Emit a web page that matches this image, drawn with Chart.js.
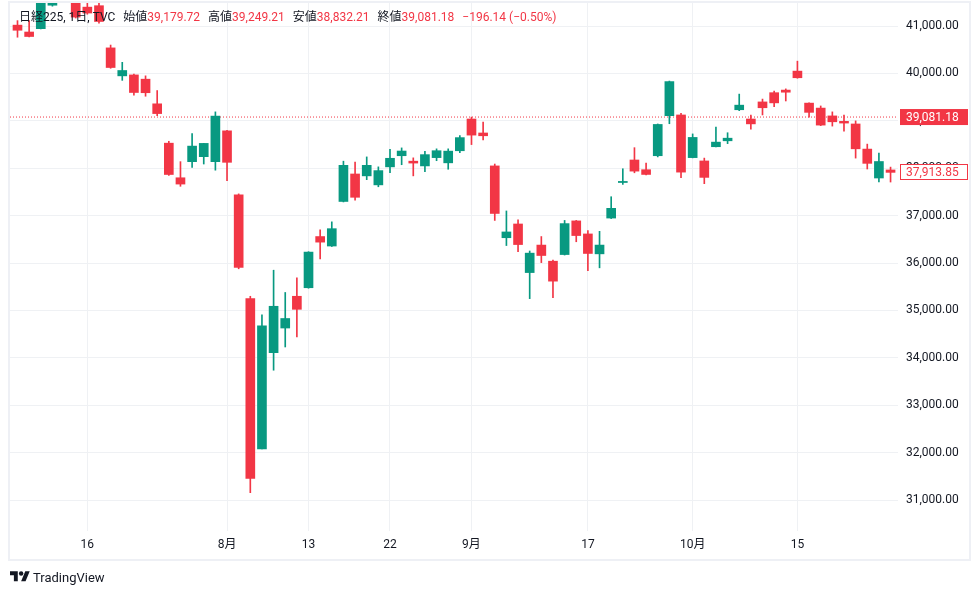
<!DOCTYPE html>
<html>
<head>
<meta charset="utf-8">
<script src="https://cdn.jsdelivr.net/npm/chart.js@4.4.0/dist/chart.umd.min.js"></script>
<style>
html,body{margin:0;padding:0;background:#fff;}
#wrap{position:relative;width:980px;height:592px;overflow:hidden;font-family:Roboto,"Noto Sans CJK JP",sans-serif;}
#frame{position:absolute;left:8px;top:1px;width:963px;height:560px;box-sizing:border-box;border:2px solid #EEF0F5;}
#c{position:absolute;left:0;top:0;}
#legend{position:absolute;left:19px;top:9px;font-size:12px;line-height:16px;color:#131722;white-space:nowrap;}
#legend .v{color:#F23645;}
#legend .g{margin-left:8px;}
#logo{position:absolute;left:10px;top:568px;height:18px;display:flex;align-items:center;color:#131722;font-size:13px;}
#logo svg{margin-right:3px;}
</style>
</head>
<body>
<div id="wrap">
  <div id="frame"></div>
  <canvas id="c" width="980" height="592"></canvas>
  <div id="legend"><span>日経225, 1日, TVC</span><span class="g">始値</span><span class="v">39,179.72</span><span class="g">高値</span><span class="v">39,249.21</span><span class="g">安値</span><span class="v">38,832.21</span><span class="g">終値</span><span class="v">39,081.18</span><span class="g v">−196.14 (−0.50%)</span></div>
  <div id="logo"><svg width="20" height="15.6" viewBox="0 0 36 28"><path fill="#131722" d="M14 22H7V11H0V4h14v18ZM28 22h-8l7.5-18h8L28 22Z"/><circle fill="#131722" cx="20" cy="8" r="4"/></svg><span>TradingView</span></div>
</div>
<script>
const dates = [
 '2024-07-05','2024-07-08','2024-07-09','2024-07-10','2024-07-11','2024-07-12','2024-07-16','2024-07-17','2024-07-18','2024-07-19',
 '2024-07-22','2024-07-23','2024-07-24','2024-07-25','2024-07-26','2024-07-29','2024-07-30','2024-07-31',
 '2024-08-01','2024-08-02','2024-08-05','2024-08-06','2024-08-07','2024-08-08','2024-08-09','2024-08-13','2024-08-14','2024-08-15',
 '2024-08-16','2024-08-19','2024-08-20','2024-08-21','2024-08-22','2024-08-23','2024-08-26','2024-08-27','2024-08-28','2024-08-29','2024-08-30',
 '2024-09-02','2024-09-03','2024-09-04','2024-09-05','2024-09-06','2024-09-09','2024-09-10','2024-09-11','2024-09-12','2024-09-13',
 '2024-09-17','2024-09-18','2024-09-19','2024-09-20','2024-09-24','2024-09-25','2024-09-26','2024-09-27','2024-09-30',
 '2024-10-01','2024-10-02','2024-10-03','2024-10-04','2024-10-07','2024-10-08','2024-10-09','2024-10-10','2024-10-11',
 '2024-10-15','2024-10-16','2024-10-17','2024-10-18','2024-10-21','2024-10-22','2024-10-23','2024-10-24','2024-10-25'
];
const opens = [41020,40875,40945,41440,41900,41700,41400,41430,40540,39950,39970,39880,39360,38530,37800,38140,38245,38140,
 38790,37440,35250,32077,34110,34630,35300,35480,36560,36360,37300,37880,37840,37650,38030,38265,38150,38050,38225,38115,38370,
 39040,38745,38050,36535,36825,35800,36380,36040,36180,36890,36615,36195,36950,37700,38175,37970,38265,39110,39125,
 38225,38155,38455,38580,39235,39040,39400,39595,39650,40050,39375,39270,39105,38990,38935,38405,37795,37965];
const highs = [41115,41115,41600,41900,42420,41800,41520,41520,40600,40235,39990,39950,39640,38570,38140,38730,38525,39190,
 38800,37460,35300,34911,35850,35380,35690,36240,36700,36870,38150,38130,38240,38030,38400,38430,38220,38360,38410,38410,38690,
 39080,38975,38090,37100,36910,36255,36560,36065,36900,36900,36685,36670,37400,37990,38435,38110,38935,39840,39160,
 38725,38215,38870,38750,39565,39125,39460,39630,39675,40260,39380,39315,39190,39125,39000,38510,38320,38025];
const lows = [40765,40770,40940,41420,41850,41170,41250,41060,40110,39855,39540,39520,39110,37850,37620,38020,38090,37960,
 37740,35880,31156,32077,33740,34230,34440,35470,36090,36350,37290,37330,37760,37610,37910,38075,37840,37930,38160,37980,38330,
 38500,38600,36900,36370,36240,35250,36010,35270,36170,36450,35840,35900,36940,37660,37905,37860,38240,38940,37800,
 38220,37675,38450,38520,39215,38825,39125,39300,39420,39900,39080,38900,38890,38785,38215,37985,37710,37710];
const closes = [40912,40780,41580,41831,42224,41190,41275,41097,40126,40063,39599,39594,39154,37869,37667,38468,38525,39101,
 38126,35909,31458,34675,35089,34831,35025,36232,36442,36726,38062,37388,38062,37951,38211,38364,38110,38288,38371,38362,38647,
 38700,38686,37047,36657,36391,36210,36160,35619,36833,36581,36203,36380,37155,37723,37940,37870,38925,39829,37919,
 38651,37808,38552,38635,39332,38937,39277,39380,39605,39910,39180,38911,38981,38954,38411,38104,38143,37913.85];
const xTickIdx = [6,18,25,32,39,49,58,67];
const xTickLabels = ['16','8月','13','22','9月','17','10月','15'];
const yTicks = [31000,32000,33000,34000,35000,36000,37000,38000,39000,40000,41000];
const lastPrice = 39081.18;
const lastVisibleClose = 37913.85;

const UP = '#089981', DOWN = '#F23645', GRID = '#EFF1F4', TXT = '#131722';
const FONT = 'Roboto, "Noto Sans CJK JP", sans-serif';
const xMin = -0.644, xMax = 75.64, yMin = 30348, yMax = 41487;

const fmt = v => v.toLocaleString('en-US',{minimumFractionDigits:2,maximumFractionDigits:2});
const idx = dates.map((d,i)=>i);
const bodies = idx.map(i=>({x:i,y:[opens[i],closes[i]]}));
const wicks = idx.map(i=>({x:i,y:[lows[i],highs[i]]}));
const colors = idx.map(i=>closes[i]>=opens[i]?UP:DOWN);

const labelPlugin = {
  id:'priceLabels',
  afterDraw(chart){
    const {ctx, chartArea, scales:{y}} = chart;
    const boxL = chartArea.right + 2, boxR = 968, h = 16;
    function box(val, filled){
      const py = y.getPixelForValue(val);
      ctx.save();
      ctx.fillStyle = filled ? DOWN : '#fff';
      ctx.fillRect(boxL, py - h/2, boxR - boxL, h);
      if(!filled){
        ctx.strokeStyle = DOWN; ctx.lineWidth = 1;
        ctx.strokeRect(boxL + 0.5, Math.round(py - h/2) + 0.5, boxR - boxL - 1, h - 1);
      }
      ctx.fillStyle = filled ? '#fff' : DOWN;
      ctx.font = '12px ' + FONT;
      ctx.textBaseline = 'middle'; ctx.textAlign = 'left';
      ctx.fillText(fmt(val), 906, py + 0.5);
      ctx.restore();
    }
    box(lastVisibleClose, false);
    box(lastPrice, true);
  }
};

new Chart(document.getElementById('c'), {
  type:'bar',
  data:{datasets:[
    {type:'line', data:[{x:xMin,y:lastPrice},{x:xMax,y:lastPrice}], borderColor:DOWN, borderWidth:1, borderDash:[1,2], pointRadius:0, order:3, clip:0},
    {type:'bar', data:wicks, backgroundColor:colors, barThickness:1, grouped:false, order:2, borderWidth:0, clip:0},
    {type:'bar', data:bodies, backgroundColor:colors, barThickness:9, minBarLength:1, grouped:false, order:1, borderWidth:0, clip:0}
  ]},
  options:{
    responsive:false, animation:false, devicePixelRatio:1,
    layout:{padding:{left:10, top:3, right:8, bottom:32}},
    plugins:{legend:{display:false}, tooltip:{enabled:false}},
    scales:{
      x:{type:'linear', min:xMin, max:xMax, offset:false,
         grid:{color:GRID, drawTicks:false, offset:false}, border:{display:false},
         afterBuildTicks:s=>{s.ticks = xTickIdx.map(v=>({value:v}));},
         afterFit:s=>{s.height = 29; s.paddingLeft = 0; s.paddingRight = 0; s.paddingTop = 0; s.paddingBottom = 0;},
         ticks:{autoSkip:false, maxRotation:0, padding:7, color:TXT, font:{family:FONT, size:12},
                callback:(v)=>{const k = xTickIdx.indexOf(v); return k>=0 ? xTickLabels[k] : '';}}
      },
      y:{position:'right', min:yMin, max:yMax,
         grid:{color:GRID, drawTicks:false}, border:{display:false},
         afterBuildTicks:s=>{s.ticks = yTicks.map(v=>({value:v}));},
         afterFit:s=>{s.width = 74; s.paddingTop = 0; s.paddingBottom = 0; s.paddingLeft = 0; s.paddingRight = 0;},
         ticks:{padding:8, color:TXT, font:{family:FONT, size:12}, callback:v=>fmt(v)}
      }
    }
  },
  plugins:[labelPlugin]
});
</script>
</body>
</html>
